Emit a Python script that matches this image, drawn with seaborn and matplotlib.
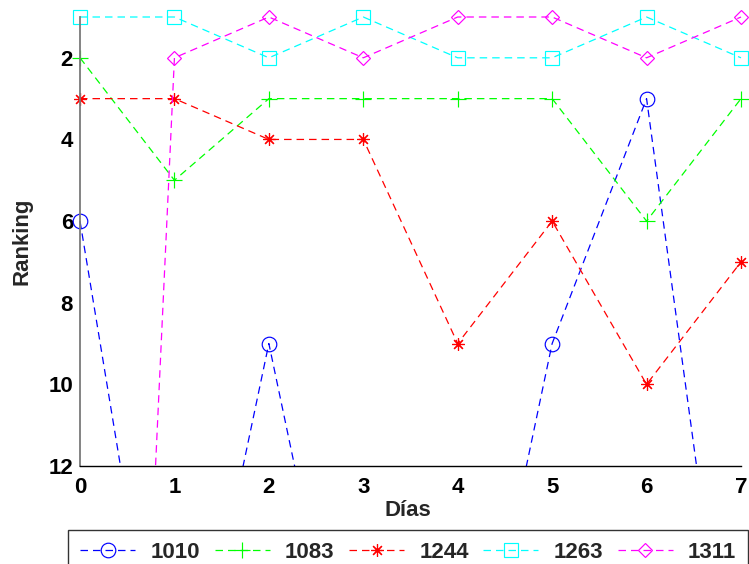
import matplotlib
matplotlib.use("Agg")
import matplotlib.pyplot as plt
from matplotlib.transforms import Bbox, TransformedBbox
import seaborn as sns

sns.set_style("white")
plt.rcParams["font.family"] = ["Liberation Sans", "DejaVu Sans"]
plt.rcParams["font.weight"] = "bold"

# Daily ranking per company (values > 12 fall below the visible range)
dias = [0, 1, 2, 3, 4, 5, 6, 7]
empresas = ["1010", "1083", "1244", "1263", "1311"]
rank_1010 = [6, 20, 9, 20, 20, 9, 3, 20]
rank_1083 = [2, 5, 3, 3, 3, 3, 6, 3]
rank_1244 = [3, 3, 4, 4, 9, 6, 10, 7]
rank_1263 = [1, 1, 2, 1, 2, 2, 1, 2]
rank_1311 = [52, 2, 1, 2, 1, 1, 2, 1]
yticks = [2, 4, 6, 8, 10, 12]

series = [rank_1010, rank_1083, rank_1244, rank_1263, rank_1311]
colores = ["#0000ff", "#00ff00", "#ff0000", "#00ffff", "#ff00ff"]
marcadores = ["o", "+", (8, 2, 0), "s", "D"]
tamanos = [10.5, 11, 9, 9.5, 7.5]
FS = 16

fig = plt.figure(figsize=(7.49, 5.64), dpi=100)
ax = fig.add_axes([80 / 749, 1 - 466 / 564, 661 / 749, 449 / 564])

for nombre, valores, color, mk, ms in zip(empresas, series, colores, marcadores, tamanos):
    sns.lineplot(x=dias, y=valores, ax=ax, color=color, marker=mk, markersize=ms,
                 markerfacecolor="none", markeredgecolor=color, markeredgewidth=0.85,
                 linewidth=0.9, linestyle="--", label=nombre)

# Clip lines at the bottom edge but let markers spill past the other edges
clip = TransformedBbox(Bbox([[-0.05, 0.0], [1.05, 1.06]]), ax.transAxes)
for ln in ax.get_lines():
    ln.set_dashes((6, 4))
    ln.set_clip_box(clip)

ax.set_xlim(0, 7)
ax.set_ylim(12, 1)
ax.set_xticks(dias)
ax.set_yticks(yticks)
ax.tick_params(axis="both", direction="in", length=5, width=1, labelsize=FS,
               colors="black")
ax.tick_params(axis="x", pad=8)
ax.tick_params(axis="y", pad=5)
for lbl in ax.get_xticklabels() + ax.get_yticklabels():
    lbl.set_fontweight("bold")

for s in ["top", "right"]:
    ax.spines[s].set_visible(False)
ax.spines["left"].set_color("#7a7a7a")
ax.spines["left"].set_linewidth(1.3)
ax.spines["bottom"].set_color("black")
ax.spines["bottom"].set_linewidth(1.0)

ax.set_xlabel("Días", fontsize=FS, fontweight="bold")
ax.set_ylabel("Ranking", fontsize=FS, fontweight="bold")
ax.xaxis.set_label_coords(0.496, (466 - 510) / 449)
ax.yaxis.set_label_coords((22 - 80) / 661, 0.5)
ax.xaxis.label.set_va("center")
ax.yaxis.label.set_va("center")

leg = ax.legend(loc="upper left", bbox_to_anchor=(68 / 749, 1 - 530 / 564),
                bbox_transform=fig.transFigure, ncol=5, frameon=True, fancybox=False,
                handlelength=2.48, handletextpad=0.68,
                columnspacing=0.66, borderpad=0.55, borderaxespad=0, numpoints=1,
                prop={"weight": "bold", "size": FS})
leg.get_frame().set_edgecolor("black")
leg.get_frame().set_linewidth(1.0)
for h in leg.legend_handles:
    h.set_dashes((6, 4))

fig.savefig("out.png", dpi=100)
